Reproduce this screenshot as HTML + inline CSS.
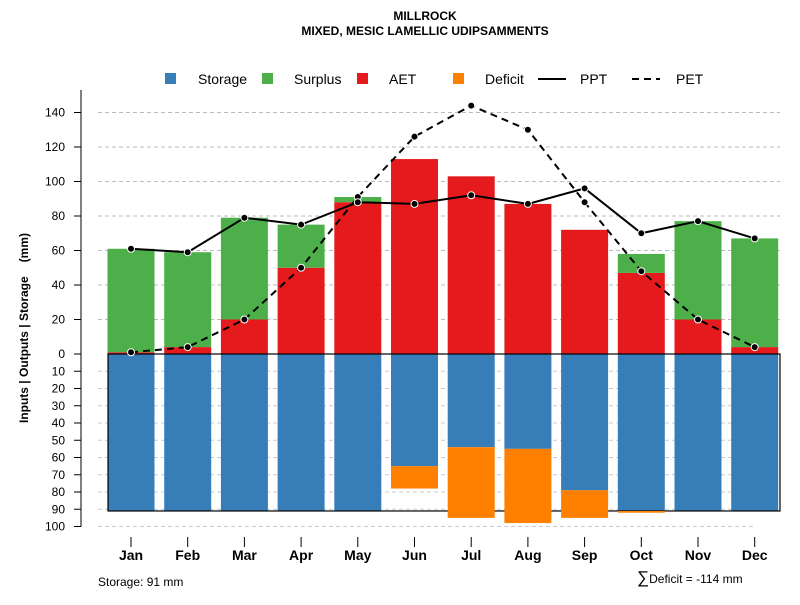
<!DOCTYPE html>
<html><head><meta charset="utf-8"><style>
body{margin:0;background:#fff;font-family:"Liberation Sans",sans-serif}
svg text{font-family:"Liberation Sans",sans-serif}
</style></head><body>
<svg id="c" width="800" height="600" xmlns="http://www.w3.org/2000/svg">
<text x="425" y="20" text-anchor="middle" font-size="12" font-weight="bold">MILLROCK</text>
<text x="425" y="35" text-anchor="middle" font-size="12" font-weight="bold">MIXED, MESIC LAMELLIC UDIPSAMMENTS</text>
<g id="legend">
<rect x="165" y="73" width="11" height="11" fill="#377eb8"/>
<text x="198" y="84" font-size="14">Storage</text>
<rect x="262" y="73" width="11" height="11" fill="#4daf4a"/>
<text x="294" y="84" font-size="14">Surplus</text>
<rect x="357" y="73" width="11" height="11" fill="#e41a1c"/>
<text x="389" y="84" font-size="14">AET</text>
<rect x="453" y="73" width="11" height="11" fill="#ff7f00"/>
<text x="485" y="84" font-size="14">Deficit</text>
<line x1="538" y1="79" x2="566" y2="79" stroke="#000" stroke-width="2"/>
<text x="580" y="84" font-size="14">PPT</text>
<line x1="632" y1="79" x2="660" y2="79" stroke="#000" stroke-width="2" stroke-dasharray="7,5"/>
<text x="676" y="84" font-size="14">PET</text>
</g>
<text transform="translate(28,328) rotate(-90)" text-anchor="middle" font-size="12" font-weight="bold">Inputs | Outputs | Storage<tspan dx="14">(mm)</tspan></text>
<text x="98" y="586" font-size="12">Storage: 91 mm</text>
<text x="637" y="583" font-size="12"><tspan font-size="17">∑</tspan>Deficit = -114 mm</text>
</svg>
<script>
const months=["Jan","Feb","Mar","Apr","May","Jun","Jul","Aug","Sep","Oct","Nov","Dec"];
const aet=[1,4,20,50,88,113,103,87,72,47,20,4];
const surplus=[60,55,59,25,3,0,0,0,0,11,57,63];
const ppt=[61,59,79,75,88,87,92,87,96,70,77,67];
const pet=[1,4,20,50,91,126,144,130,88,48,20,4];
const storage=[91,91,91,91,91,65,54,55,79,91,91,91];
const deficit=[0,0,0,0,0,13,41,43,16,1,0,0];
const upTicks=[0,20,40,60,80,100,120,140];
const downTicks=[10,20,30,40,50,60,70,80,90,100];
const awc=91;
const NS="http://www.w3.org/2000/svg",svg=document.getElementById('c');
const y0=354,k=1.725;
const yU=v=>y0-v*k, yD=v=>y0+v*k;
const xc=i=>131+i*56.7, bw=47;
function mk(t,a,p){const e=document.createElementNS(NS,t);for(const n in a)e.setAttribute(n,a[n]);(p||svg).appendChild(e);return e;}
upTicks.forEach(v=>{if(v===0)return;const l=mk('line',{x1:98,x2:780,y1:yU(v),y2:yU(v),stroke:'#bbb','stroke-dasharray':'4,3'});

});
downTicks.forEach(v=>{const l=mk('line',{x1:98,x2:755,y1:yD(v),y2:yD(v),stroke:'#ccc','stroke-dasharray':'4,3'});

});
months.forEach((m,i)=>{
const x=xc(i)-bw/2;
let r=mk('rect',{x:x,y:yU(aet[i]),width:bw,height:aet[i]*k,fill:'#e41a1c'});


r=mk('rect',{x:x,y:yU(aet[i]+surplus[i]),width:bw,height:surplus[i]*k,fill:'#4daf4a'});


r=mk('rect',{x:x,y:y0,width:bw,height:storage[i]*k,fill:'#377eb8'});


const t=mk('text',{x:xc(i),y:560,'text-anchor':'middle','font-size':14,'font-weight':'bold'});t.textContent=m;


const tk=mk('line',{x1:xc(i),x2:xc(i),y1:537,y2:547,stroke:'#000'});


});
const box=mk('rect',{x:108,y:y0,width:672,height:awc*k,fill:'none',stroke:'#000','stroke-width':1.2});


months.forEach((m,i)=>{
const r=mk('rect',{x:xc(i)-bw/2,y:yD(storage[i]),width:bw,height:deficit[i]*k,fill:'#ff7f00'});


});
const ax=mk('line',{x1:81,x2:81,y1:90,y2:yD(100),stroke:'#000'});


upTicks.forEach(v=>{mk('line',{x1:74,x2:81,y1:yU(v),y2:yU(v),stroke:'#000'});const t=mk('text',{x:65,y:yU(v)+4,'text-anchor':'end','font-size':12});t.textContent=v;

});
downTicks.forEach(v=>{mk('line',{x1:74,x2:81,y1:yD(v),y2:yD(v),stroke:'#000'});const t=mk('text',{x:65,y:yD(v)+4,'text-anchor':'end','font-size':12});t.textContent=v;

});
function series(vals,name,dash){
const pts=vals.map((v,i)=>xc(i)+','+yU(v)).join(' ');
const pl=mk('polyline',{points:pts,fill:'none',stroke:'#000','stroke-width':2,'stroke-dasharray':dash||'none'});


vals.forEach((v,i)=>{const c=mk('circle',{cx:xc(i),cy:yU(v),r:3.5,fill:'#000',stroke:'#fff','stroke-width':1});

});
}
series(pet,'pet','7,5');
series(ppt,'ppt');
</script>
</body></html>
